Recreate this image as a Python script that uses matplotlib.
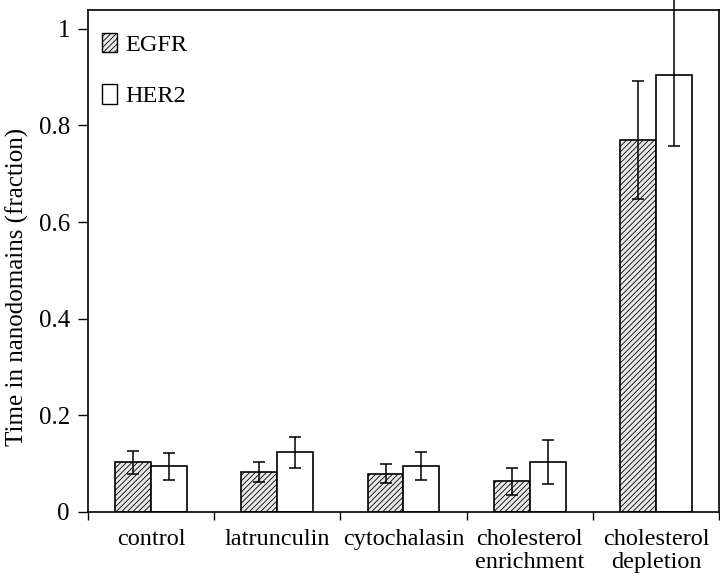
import numpy as np
import matplotlib.pyplot as plt
from matplotlib.patches import Patch
from matplotlib.ticker import FormatStrFormatter, FixedLocator

plt.rcParams['font.family'] = ['Liberation Serif', 'DejaVu Serif']
plt.rcParams['hatch.linewidth'] = 0.6
plt.rcParams['hatch.color'] = '#444444'

# Data
categories = ['control', 'latrunculin', 'cytochalasin',
              'cholesterol\nenrichment', 'cholesterol\ndepletion']
egfr = [0.103, 0.083, 0.079, 0.064, 0.770]
egfr_err = [0.024, 0.020, 0.020, 0.028, 0.123]
her2 = [0.095, 0.124, 0.095, 0.103, 0.905]
her2_err_low = [0.028, 0.032, 0.029, 0.045, 0.148]
her2_err_high = [0.028, 0.032, 0.029, 0.045, 0.170]  # top runs off the plot

x = np.arange(len(categories)) + 0.5
width = 0.285

fig = plt.figure(figsize=(7.2, 5.82), dpi=100)
ax = fig.add_axes([0.1222, 0.1203, 0.8764, 0.8625])

ax.bar(x - width / 2, egfr, width, color='#e8e8e8', edgecolor='black',
       hatch='//////', linewidth=1.2, zorder=2)
ax.bar(x + width / 2, her2, width, color='white', edgecolor='black',
       linewidth=1.2, zorder=2)
ax.errorbar(x - width / 2, egfr, yerr=egfr_err, fmt='none', ecolor='black',
            elinewidth=1.1, capsize=4, capthick=1.1, zorder=3, clip_on=False)
ax.errorbar(x + width / 2, her2, yerr=[her2_err_low, her2_err_high], fmt='none',
            ecolor='black', elinewidth=1.1, capsize=4, capthick=1.1, zorder=3,
            clip_on=False)

ax.set_xlim(0, len(categories))
ax.set_ylim(0, 1.039)

# group boundaries as ticks, labels at the group centres
ax.xaxis.set_major_locator(FixedLocator(np.arange(len(categories) + 1)))
ax.xaxis.set_major_formatter(plt.NullFormatter())
ax.xaxis.set_minor_locator(FixedLocator(x))
ax.set_xticklabels(categories, minor=True, fontsize=17.5, linespacing=1.15)
ax.tick_params(axis='x', which='major', direction='out', length=6, width=1)
ax.tick_params(axis='x', which='minor', length=0, pad=12)

ax.set_yticks([0, 0.2, 0.4, 0.6, 0.8, 1.0])
ax.yaxis.set_major_formatter(FormatStrFormatter('%g'))
ax.tick_params(axis='y', direction='out', length=7, width=1, labelsize=18, pad=6)
ax.set_ylabel('Time in nanodomains (fraction)', fontsize=18)
ax.yaxis.set_label_coords(-0.093, 0.448)

for s in ax.spines.values():
    s.set_linewidth(1.2)

handles = [Patch(facecolor='#e8e8e8', edgecolor='black', hatch='//////', label='EGFR'),
           Patch(facecolor='white', edgecolor='black', label='HER2')]
ax.legend(handles=handles, loc='upper left', frameon=False, fontsize=17.5,
          handlelength=0.62, handleheight=0.88, handletextpad=0.35,
          labelspacing=1.15, borderpad=0, borderaxespad=0,
          bbox_to_anchor=(0.022, 0.955))

fig.savefig('out.png', dpi=100)
